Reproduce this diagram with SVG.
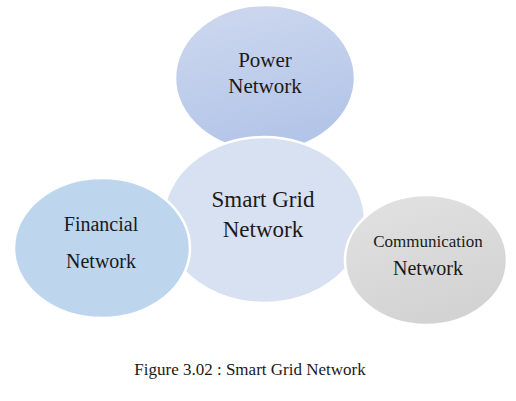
<svg xmlns="http://www.w3.org/2000/svg" width="516" height="401" viewBox="0 0 516 401">
<defs>
<linearGradient id="gPower" x1="0" y1="0" x2="0.3" y2="1">
<stop offset="0" stop-color="#cfd9ef"/>
<stop offset="1" stop-color="#b3c5e8"/>
</linearGradient>
<linearGradient id="gComm" x1="0" y1="0" x2="0.4" y2="1">
<stop offset="0" stop-color="#e2e2e2"/>
<stop offset="1" stop-color="#d3d3d3"/>
</linearGradient>
</defs>
<style>
.n{stroke:#ffffff;stroke-width:2.5}
text{font-family:"Liberation Serif","Times New Roman",serif;fill:#1a1a1a;text-anchor:middle}
</style>
<rect width="516" height="401" fill="#ffffff"/>
<g id="power">
<ellipse class="n" cx="265" cy="78" rx="90" ry="73" fill="url(#gPower)"/>
<text x="265" y="67" font-size="21">Power</text>
<text x="265" y="93" font-size="21">Network</text>
</g>
<g id="smartgrid">
<ellipse class="n" cx="264" cy="220" rx="101" ry="83" fill="#d8e1f2"/>
<text x="263" y="207" font-size="23">Smart Grid</text>
<text x="263" y="237" font-size="23">Network</text>
</g>
<g id="financial">
<ellipse class="n" cx="102" cy="248" rx="88" ry="70" fill="#bdd6ee"/>
<text x="101" y="231" font-size="20">Financial</text>
<text x="101" y="268" font-size="20">Network</text>
</g>
<g id="communication">
<ellipse class="n" cx="426" cy="260" rx="81" ry="65" fill="url(#gComm)"/>
<text x="428" y="247" font-size="17">Communication</text>
<text x="428" y="275" font-size="20">Network</text>
</g>
<g id="connectors"></g>
<text x="250" y="375" font-size="17">Figure 3.02 : Smart Grid Network</text>
</svg>
